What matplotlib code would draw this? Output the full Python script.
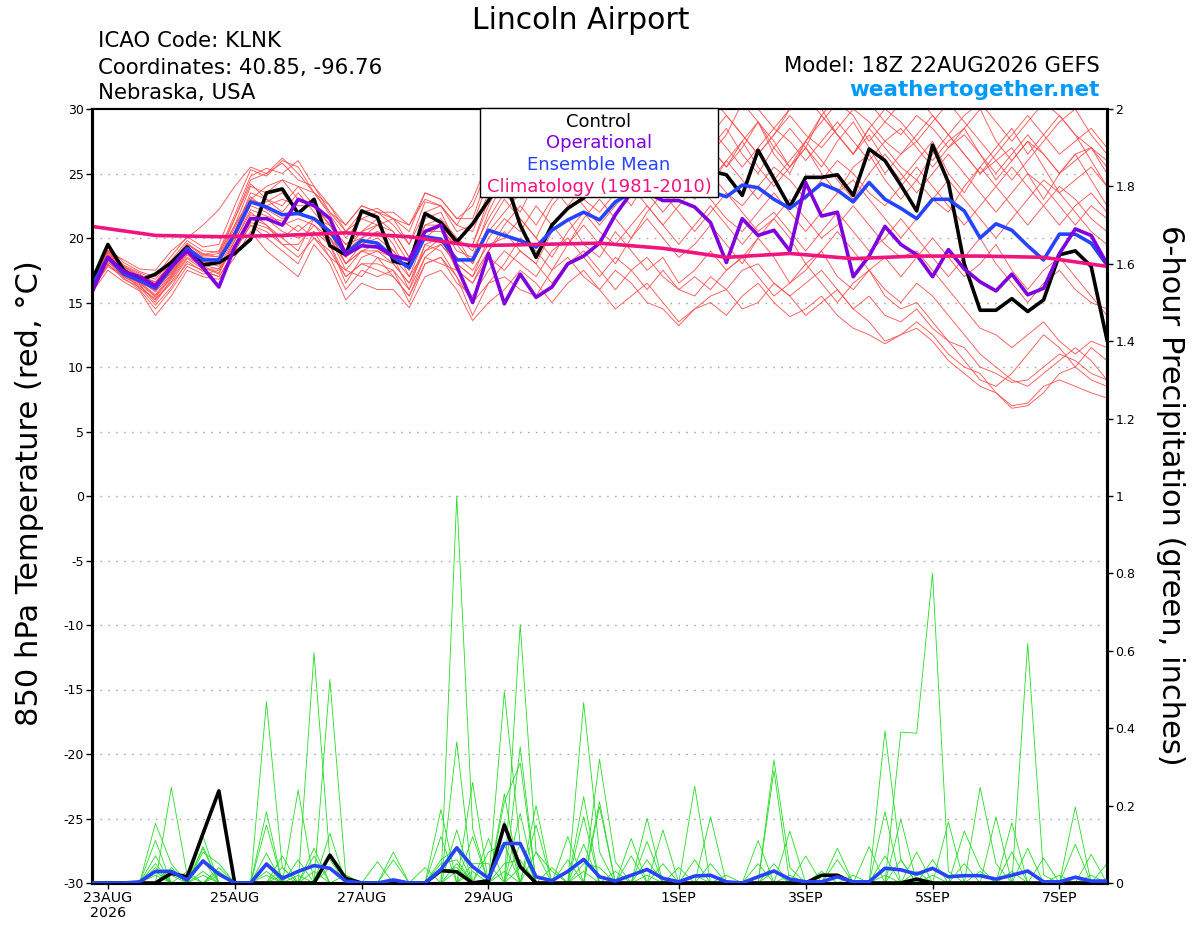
import numpy as np
import pandas as pd
import matplotlib
matplotlib.use("Agg")
import matplotlib.pyplot as plt
from matplotlib.patches import Rectangle
from matplotlib.ticker import FormatStrFormatter

plt.rcParams["axes.unicode_minus"] = False

# 6-hourly GEFS steps, 22AUG 18Z .. 7SEP 18Z
times = pd.date_range("2026-08-22 18:00", periods=65, freq="6h")
clim_times = times[::4]

tick_dates = ["2026-08-23", "2026-08-25", "2026-08-27", "2026-08-29",
              "2026-09-01", "2026-09-03", "2026-09-05", "2026-09-07"]
tick_labels = ["23AUG\n2026", "25AUG", "27AUG", "29AUG", "1SEP", "3SEP", "5SEP", "7SEP"]

# 850 hPa temperature (C)
control_t = [16.7, 19.5, 17.5, 16.7, 17.2, 18.1, 19.3, 17.9, 18.1, 18.8, 19.9, 23.5, 23.8,
             21.9, 23.0, 19.4, 18.7, 22.1, 21.6, 18.2, 17.9, 21.9, 21.2, 19.7, 21.1, 22.9,
             24.8, 21.0, 18.5, 21.0, 22.3, 23.1, 24.5, 25.5, 26.0, 25.5, 26.0, 25.5, 25.5,
             25.2, 24.9, 23.3, 26.8, 24.6, 22.4, 24.7, 24.7, 24.9, 23.3, 26.9, 26.0, 24.1,
             22.1, 27.2, 24.3, 18.0, 14.4, 14.4, 15.3, 14.3, 15.2, 18.7, 19.0, 17.8, 12.1]
oper_t = [15.8, 18.5, 17.4, 17.0, 16.3, 17.8, 19.0, 17.7, 16.2, 19.3, 21.5, 21.5, 21.0,
          23.0, 22.5, 21.5, 18.7, 19.4, 19.3, 18.6, 18.3, 20.5, 21.0, 17.8, 15.0, 18.8,
          14.9, 17.2, 15.4, 16.2, 18.0, 18.6, 19.6, 21.8, 23.5, 23.5, 22.9, 22.9, 22.4,
          21.2, 18.1, 21.5, 20.2, 20.6, 19.0, 24.3, 21.7, 22.0, 17.0, 18.6, 20.9, 19.5,
          18.7, 17.0, 19.1, 17.6, 16.6, 15.9, 17.2, 15.6, 16.1, 18.8, 20.7, 20.2, 18.0]
mean_t = [16.3, 18.5, 17.2, 16.7, 16.1, 17.7, 19.2, 18.3, 18.3, 20.3, 22.8, 22.4, 21.8,
          21.9, 21.5, 20.5, 18.8, 19.8, 19.6, 18.5, 17.7, 20.1, 19.9, 18.3, 18.3, 20.6,
          20.2, 19.8, 19.3, 20.6, 21.4, 22.0, 21.4, 22.8, 23.5, 24.0, 23.8, 24.2, 24.0,
          23.6, 23.2, 24.1, 23.9, 23.0, 22.3, 23.2, 24.2, 23.7, 22.8, 24.3, 23.0, 22.3,
          21.5, 23.0, 23.0, 22.1, 20.0, 21.1, 20.6, 19.4, 18.3, 20.3, 20.3, 19.6, 17.9]
clim_t = [20.9, 20.2, 20.1, 20.2, 20.4, 20.1, 19.4, 19.5, 19.6, 19.2, 18.5, 18.8, 18.4,
          18.6, 18.6, 18.5, 17.8]

member_t = [
    [16.9, 19.3, 18.1, 17.4, 17.0, 18.6, 20.1, 19.3, 19.5, 22.5, 25.3, 24.8, 26.0,
     25.5, 23.5, 21.8, 20.0, 21.5, 22.0, 21.0, 19.5, 22.8, 22.5, 20.5, 21.0, 24.5,
     27.0, 28.5, 27.0, 29.0, 31.0, 29.5, 28.0, 29.5, 31.5, 30.5, 28.5, 30.5, 31.0,
     27.0, 25.5, 27.0, 29.0, 27.5, 25.5, 27.0, 29.5, 28.0, 26.5, 28.5, 27.0, 25.5,
     24.5, 26.5, 28.0, 26.5, 25.0, 26.0, 27.0, 25.0, 23.0, 25.0, 26.5, 24.5, 22.5],
    [16.0, 17.8, 17.0, 16.3, 15.2, 16.5, 18.0, 17.5, 17.0, 19.0, 21.0, 20.5, 19.5,
     18.5, 20.0, 19.0, 17.0, 18.0, 17.5, 17.0, 15.5, 18.0, 18.5, 17.0, 15.0, 16.5,
     17.0, 16.0, 15.5, 17.5, 18.5, 17.0, 16.0, 17.5, 16.5, 15.0, 14.5, 13.2, 14.5,
     15.5, 16.0, 14.5, 15.0, 16.5, 15.5, 14.0, 15.0, 16.0, 14.5, 13.5, 12.0, 12.5,
     13.0, 12.0, 10.5, 9.5, 8.5, 8.0, 7.0, 7.2, 8.5, 9.0, 8.5, 8.0, 7.6],
    [16.5, 18.6, 17.5, 16.8, 15.8, 17.2, 19.0, 18.0, 18.2, 20.5, 23.5, 23.0, 22.0,
     23.5, 22.0, 20.5, 18.0, 19.5, 20.5, 19.0, 17.5, 20.5, 21.0, 19.0, 18.5, 22.0,
     24.5, 26.0, 24.0, 27.0, 28.5, 26.5, 25.5, 27.0, 29.0, 27.0, 25.5, 27.5, 29.5,
     27.0, 25.5, 27.5, 29.0, 26.5, 25.0, 27.5, 29.5, 28.0, 26.5, 28.0, 26.0, 24.5,
     26.0, 27.5, 25.0, 23.5, 25.5, 27.0, 28.5, 26.5, 28.0, 29.5, 28.0, 26.0, 24.0],
    [16.2, 18.2, 16.9, 16.0, 14.5, 16.0, 17.8, 17.2, 17.5, 19.5, 21.5, 21.0, 20.0,
     19.0, 21.5, 20.0, 17.5, 19.0, 18.5, 18.0, 16.5, 19.5, 20.0, 17.5, 16.5, 19.0,
     20.5, 19.0, 18.0, 20.5, 21.5, 19.5, 18.5, 20.5, 19.0, 17.5, 18.5, 16.5, 17.5,
     19.0, 17.5, 18.5, 20.0, 18.5, 16.5, 17.5, 19.0, 17.0, 16.0, 17.5, 15.5, 14.5,
     15.0, 13.5, 12.0, 10.5, 9.0, 8.5, 9.5, 11.0, 12.5, 11.5, 10.0, 11.5, 10.5],
    [17.0, 19.0, 17.8, 17.2, 16.5, 18.0, 19.5, 18.8, 18.5, 21.0, 24.0, 23.5, 24.5,
     24.0, 22.5, 21.0, 19.0, 20.5, 21.5, 20.5, 18.5, 21.5, 22.0, 19.5, 19.5, 23.0,
     25.5, 27.5, 26.0, 24.5, 26.5, 28.5, 27.5, 26.0, 25.0, 27.0, 28.5, 30.0, 28.5,
     26.5, 28.0, 30.5, 29.0, 27.0, 25.5, 27.5, 29.0, 30.5, 29.5, 27.5, 29.0, 28.0,
     29.5, 28.5, 27.0, 28.5, 30.0, 27.5, 26.0, 27.5, 26.5, 25.0, 26.5, 27.0, 25.5],
    [16.4, 18.5, 17.2, 16.5, 15.5, 17.0, 19.0, 18.2, 17.8, 20.0, 22.5, 22.0, 21.0,
     21.5, 21.0, 19.5, 16.5, 18.5, 19.0, 18.5, 16.0, 19.5, 19.0, 17.0, 14.0, 16.5,
     18.0, 20.0, 19.0, 17.5, 19.5, 21.0, 19.5, 18.0, 20.0, 21.5, 20.0, 18.5, 19.5,
     21.0, 19.5, 18.0, 20.0, 21.5, 20.0, 18.0, 19.0, 20.5, 19.0, 17.5, 18.5, 17.0,
     18.5, 20.0, 18.5, 17.0, 18.0, 19.5, 17.5, 16.0, 17.5, 18.5, 17.0, 15.5, 14.0],
    [16.7, 18.9, 17.6, 16.9, 16.0, 17.5, 19.3, 18.5, 18.6, 21.5, 24.5, 25.0, 26.2,
     25.0, 23.5, 22.0, 20.5, 22.0, 22.3, 21.5, 20.5, 23.5, 23.0, 21.5, 22.5, 25.5,
     28.0, 26.5, 29.0, 30.5, 28.5, 27.0, 28.5, 30.0, 29.0, 27.5, 26.5, 28.0, 30.5,
     31.0, 29.5, 28.0, 26.5, 28.0, 30.0, 31.5, 30.0, 28.0, 26.5, 28.5, 30.0, 29.0,
     27.5, 29.0, 30.5, 29.0, 27.5, 26.0, 24.5, 26.0, 27.5, 29.0, 30.0, 28.0, 26.5],
    [15.8, 17.5, 16.6, 15.9, 14.0, 15.5, 17.5, 17.0, 16.8, 18.5, 20.5, 19.0, 18.0,
     17.0, 19.5, 18.0, 15.2, 16.5, 16.0, 16.0, 14.6, 17.0, 17.5, 16.0, 13.6, 15.0,
     16.0, 17.5, 16.5, 15.0, 16.5, 17.5, 16.0, 14.5, 15.5, 16.5, 15.0, 13.5, 14.5,
     15.0, 14.0, 15.5, 16.5, 15.0, 13.9, 14.5, 15.5, 14.0, 13.0, 12.5, 11.8, 12.5,
     13.5, 12.5, 11.0, 10.0, 9.5, 8.0, 6.8, 7.0, 8.0, 9.5, 10.0, 9.0, 8.5],
    [16.6, 18.7, 17.8, 17.0, 16.2, 17.6, 19.5, 18.6, 18.8, 21.0, 23.0, 22.5, 23.0,
     22.5, 22.5, 21.0, 19.5, 20.0, 20.5, 20.0, 18.0, 21.0, 21.5, 20.0, 19.0, 21.5,
     23.5, 22.0, 24.5, 26.0, 24.0, 23.0, 25.0, 26.5, 25.0, 23.5, 25.5, 27.0, 25.5,
     24.0, 26.0, 27.5, 25.5, 24.0, 25.5, 27.0, 25.0, 23.5, 25.5, 26.5, 24.5, 23.0,
     24.5, 23.0, 22.0, 24.0, 25.5, 24.0, 22.5, 21.0, 22.5, 24.0, 23.0, 21.5, 20.5],
    [16.3, 18.3, 17.0, 16.4, 15.0, 16.8, 18.5, 17.8, 17.3, 19.5, 21.8, 21.5, 20.5,
     20.0, 20.5, 19.5, 17.0, 18.0, 18.0, 17.5, 16.0, 18.5, 19.5, 18.0, 17.0, 20.0,
     21.5, 20.5, 22.5, 21.0, 19.5, 21.5, 23.0, 21.5, 20.0, 22.0, 23.5, 22.0, 20.5,
     22.0, 23.5, 22.0, 20.5, 21.5, 23.0, 21.5, 20.0, 21.0, 22.5, 21.0, 19.5, 18.5,
     19.0, 17.5, 16.0, 14.5, 13.0, 12.5, 11.5, 12.5, 13.5, 12.0, 11.0, 12.0, 11.5],
    [16.9, 19.0, 18.3, 17.6, 17.5, 19.0, 20.0, 21.0, 22.2, 24.0, 25.5, 25.0, 25.8,
     24.5, 24.0, 22.0, 21.0, 22.5, 22.0, 21.5, 21.0, 23.0, 22.5, 21.0, 23.0, 26.0,
     29.0, 31.0, 29.5, 28.0, 30.0, 31.5, 30.0, 28.5, 30.5, 32.0, 30.5, 29.0, 30.5,
     29.5, 30.5, 31.5, 30.0, 28.5, 30.0, 31.0, 29.5, 31.0, 32.0, 30.5, 29.0, 30.5,
     31.0, 29.5, 28.0, 29.5, 30.5, 29.0, 27.5, 29.0, 30.5, 29.5, 28.0, 27.0, 26.0],
    [16.1, 18.0, 16.8, 16.2, 14.8, 16.2, 18.2, 17.4, 17.0, 19.0, 21.0, 20.0, 19.0,
     18.0, 20.5, 18.5, 16.0, 17.5, 17.0, 17.5, 15.0, 18.0, 18.5, 16.5, 15.5, 17.5,
     19.0, 18.0, 17.0, 19.0, 20.0, 18.5, 17.0, 18.5, 17.5, 16.0, 17.5, 16.0, 15.5,
     17.0, 16.0, 17.5, 18.0, 16.5, 15.5, 16.5, 17.5, 16.0, 14.5, 15.5, 14.0, 13.5,
     14.5, 13.0, 12.0, 11.5, 10.0, 9.5, 8.8, 9.0, 10.0, 11.0, 10.5, 9.5, 9.0],
    [16.5, 18.8, 17.6, 16.7, 16.3, 17.8, 19.2, 18.4, 18.0, 20.5, 23.0, 24.0, 24.5,
     23.0, 22.5, 21.0, 19.5, 20.5, 21.0, 19.5, 17.0, 20.0, 21.0, 20.0, 18.0, 20.5,
     22.0, 23.5, 25.0, 24.0, 22.5, 24.0, 25.5, 24.0, 22.5, 24.5, 26.0, 24.5, 23.0,
     24.5, 26.0, 24.5, 23.0, 24.5, 26.0, 27.5, 26.0, 24.5, 23.0, 25.0, 26.5, 25.0,
     23.5, 25.0, 26.5, 25.0, 23.5, 22.0, 23.5, 25.0, 24.0, 22.5, 21.0, 22.5, 21.5],
    [16.0, 17.9, 17.1, 16.6, 15.6, 17.1, 18.8, 17.9, 17.6, 19.8, 22.0, 21.0, 19.5,
     19.5, 21.0, 20.0, 18.0, 19.0, 19.5, 18.5, 17.0, 19.0, 20.0, 18.5, 17.5, 19.5,
     20.0, 21.5, 20.0, 18.5, 20.5, 22.0, 20.5, 19.5, 21.0, 22.5, 21.0, 19.5, 21.0,
     22.5, 21.0, 19.5, 21.0, 22.0, 20.5, 19.0, 20.5, 22.0, 20.5, 19.0, 20.0, 21.5,
     20.0, 18.5, 17.0, 18.5, 20.0, 18.0, 16.5, 15.0, 16.5, 17.5, 16.0, 15.0, 14.5],
    [16.8, 19.1, 17.9, 17.3, 16.8, 18.3, 19.8, 19.0, 18.9, 21.5, 24.2, 23.0, 22.5,
     24.0, 23.5, 22.5, 20.5, 21.5, 21.0, 21.5, 19.5, 22.0, 22.5, 21.0, 20.5, 23.5,
     26.0, 24.5, 26.5, 28.0, 26.5, 25.0, 26.5, 28.0, 27.0, 25.5, 27.0, 28.5, 27.0,
     28.5, 27.0, 25.5, 27.0, 28.5, 27.5, 26.0, 27.5, 29.0, 27.5, 26.0, 27.5, 28.5,
     27.0, 25.5, 27.0, 28.0, 26.5, 25.0, 26.5, 28.0, 26.5, 25.0, 26.0, 27.0, 25.0],
    [16.2, 18.1, 17.3, 16.1, 15.3, 16.6, 18.4, 17.6, 17.6, 19.2, 21.2, 20.8, 20.0,
     21.0, 20.0, 18.5, 17.5, 17.0, 18.5, 17.0, 15.5, 18.5, 18.0, 17.5, 16.5, 18.5,
     17.5, 19.0, 18.0, 16.5, 18.0, 19.0, 17.5, 16.0, 17.5, 18.5, 17.0, 16.0, 17.0,
     16.0, 17.5, 18.5, 17.0, 15.5, 16.5, 18.0, 16.5, 15.0, 16.5, 17.5, 16.0, 15.0,
     16.5, 15.5, 14.0, 12.5, 11.0, 10.0, 9.0, 8.5, 9.5, 10.5, 11.5, 10.5, 9.0],
    [16.6, 18.4, 17.4, 16.6, 15.9, 17.4, 19.1, 18.3, 18.4, 20.8, 23.2, 22.2, 21.5,
     22.0, 21.5, 20.0, 18.5, 19.5, 20.0, 19.0, 17.5, 20.5, 20.5, 19.5, 18.0, 21.0,
     23.0, 21.5, 20.0, 22.5, 24.0, 22.5, 21.0, 22.5, 24.0, 22.5, 21.0, 22.5, 24.0,
     23.0, 21.5, 20.5, 22.0, 23.5, 22.0, 20.5, 22.0, 23.5, 24.5, 23.0, 21.5, 20.0,
     21.5, 23.0, 24.5, 23.0, 21.5, 20.0, 21.5, 23.0, 24.5, 23.5, 22.0, 20.5, 19.5],
    [16.4, 18.6, 17.5, 16.8, 16.1, 17.3, 19.0, 18.1, 18.1, 20.2, 22.7, 22.8, 23.5,
     22.0, 21.5, 21.0, 19.0, 20.0, 21.0, 20.5, 18.5, 21.0, 21.0, 19.5, 19.5, 22.5,
     25.0, 27.0, 25.5, 27.5, 29.5, 28.0, 26.5, 28.0, 29.5, 28.5, 30.0, 28.5, 27.0,
     28.0, 29.5, 28.0, 26.5, 28.0, 29.5, 28.0, 27.0, 28.5, 30.0, 29.0, 27.5, 26.5,
     28.0, 29.5, 28.0, 26.5, 25.0, 26.5, 28.0, 29.5, 28.0, 26.5, 27.5, 28.5, 27.0],
    [16.3, 18.4, 17.1, 16.5, 15.4, 16.9, 18.7, 17.7, 17.2, 19.8, 22.2, 21.7, 21.3,
     20.5, 21.5, 20.5, 18.0, 19.0, 19.0, 18.0, 16.5, 19.0, 19.5, 18.0, 17.0, 19.0,
     21.0, 22.5, 21.0, 23.0, 24.5, 23.0, 22.0, 23.5, 25.0, 23.5, 22.0, 23.5, 25.5,
     25.0, 23.5, 22.5, 24.0, 25.5, 24.5, 23.0, 24.5, 26.0, 25.0, 23.5, 22.5, 24.0,
     25.5, 24.0, 22.5, 21.0, 22.5, 24.0, 25.5, 24.0, 22.5, 21.0, 22.5, 23.5, 22.0],
    [16.7, 18.9, 17.7, 17.1, 16.6, 18.1, 19.6, 18.7, 19.0, 21.8, 24.8, 25.4, 25.0,
     26.0, 24.0, 22.5, 21.0, 22.5, 22.0, 22.0, 21.0, 23.5, 23.0, 21.5, 21.5, 25.0,
     26.0, 27.5, 29.0, 27.0, 25.5, 27.0, 28.5, 26.5, 25.0, 26.5, 28.5, 27.5, 26.0,
     27.0, 28.5, 26.5, 25.0, 27.0, 28.5, 27.0, 25.5, 27.5, 29.0, 27.0, 25.0, 26.5,
     27.5, 26.0, 27.5, 28.5, 26.5, 24.5, 26.0, 27.5, 25.5, 23.5, 24.5, 25.5, 24.0],
]

# 6-hour precipitation (inches)
control_p = [0, 0, 0, 0, 0, 0.025, 0.016, 0.128, 0.238, 0, 0, 0, 0,
             0, 0, 0.072, 0.012, 0, 0, 0, 0, 0, 0.032, 0.029, 0, 0.006,
             0.15, 0.042, 0, 0, 0, 0, 0, 0, 0, 0, 0, 0, 0,
             0, 0, 0, 0, 0, 0, 0, 0.02, 0.02, 0, 0, 0, 0,
             0.01, 0, 0, 0, 0, 0, 0, 0, 0, 0, 0, 0, 0]
mean_p = [0, 0, 0, 0.003, 0.03, 0.03, 0.008, 0.057, 0.023, 0, 0, 0.049, 0.012,
          0.03, 0.045, 0.038, 0.005, 0, 0, 0.008, 0, 0, 0.035, 0.091, 0.042, 0.012,
          0.102, 0.102, 0.016, 0.006, 0.03, 0.061, 0.016, 0.005, 0.02, 0.035, 0.012, 0.003, 0.018,
          0.02, 0.003, 0, 0.016, 0.031, 0.01, 0.003, 0.003, 0.016, 0.003, 0.003, 0.038, 0.034,
          0.023, 0.038, 0.016, 0.019, 0.019, 0.01, 0.02, 0.031, 0.003, 0.003, 0.015, 0.005, 0.005]

# non-zero steps of each precipitation member {step: inches}
member_p = [
    {4: 0.154, 5: 0.05, 11: 0.468, 12: 0.04, 23: 1.0, 24: 0.14, 31: 0.1, 43: 0.318, 44: 0.04,
     51: 0.39, 52: 0.387, 53: 0.8, 54: 0.03, 62: 0.196},
    {5: 0.247, 6: 0.02, 14: 0.595, 15: 0.06, 22: 0.19, 27: 0.668, 28: 0.08, 35: 0.167,
     50: 0.393, 51: 0.06, 59: 0.619, 60: 0.02},
    {4: 0.11, 7: 0.12, 15: 0.526, 16: 0.02, 23: 0.365, 26: 0.494, 27: 0.1, 32: 0.32, 33: 0.055,
     38: 0.25, 56: 0.247, 57: 0.05},
    {4: 0.07, 7: 0.094, 11: 0.184, 13: 0.24, 23: 0.137, 27: 0.352, 31: 0.466, 32: 0.08,
     43: 0.29, 47: 0.09, 55: 0.134, 56: 0.04},
    {4: 0.05, 7: 0.09, 11: 0.15, 22: 0.12, 24: 0.26, 26: 0.23, 31: 0.223, 36: 0.137,
     42: 0.11, 50: 0.184, 58: 0.156},
    {5: 0.04, 7: 0.08, 8: 0.05, 11: 0.077, 15: 0.128, 19: 0.08, 26: 0.21, 27: 0.31, 32: 0.21,
     34: 0.115, 39: 0.171, 54: 0.158, 57: 0.171},
    {4: 0.04, 8: 0.04, 12: 0.07, 14: 0.09, 22: 0.06, 23: 0.09, 26: 0.16, 28: 0.2, 31: 0.171,
     35: 0.107, 44: 0.134, 51: 0.165, 58: 0.08, 62: 0.1},
    {5: 0.03, 7: 0.06, 11: 0.05, 13: 0.06, 18: 0.055, 24: 0.12, 27: 0.18, 30: 0.12, 32: 0.197,
     36: 0.05, 49: 0.094, 52: 0.08, 63: 0.074},
    {8: 0.03, 14: 0.07, 22: 0.05, 23: 0.06, 25: 0.115, 28: 0.15, 34: 0.07, 38: 0.06, 43: 0.05,
     47: 0.06, 53: 0.06, 59: 0.09},
    {4: 0.03, 12: 0.04, 16: 0.02, 21: 0.04, 25: 0.08, 26: 0.1, 29: 0.04, 35: 0.06, 42: 0.05,
     45: 0.07, 50: 0.07, 55: 0.05, 64: 0.05},
    {6: 0.03, 19: 0.06, 24: 0.05, 25: 0.05, 27: 0.1, 30: 0.06, 33: 0.03, 37: 0.04, 39: 0.05,
     46: 0.03, 51: 0.06, 60: 0.064},
    {5: 0.02, 11: 0.03, 15: 0.04, 22: 0.03, 23: 0.04, 28: 0.08, 29: 0.03, 40: 0.02, 48: 0.02,
     56: 0.03, 61: 0.02},
    {4: 0.02, 7: 0.03, 13: 0.02, 23: 0.05, 26: 0.05, 27: 0.06, 31: 0.05, 32: 0.04, 44: 0.02,
     52: 0.03, 58: 0.03},
    {4: 0.03, 8: 0.02, 11: 0.02, 14: 0.03, 24: 0.03, 27: 0.04, 35: 0.02, 43: 0.03, 50: 0.02,
     63: 0.02},
    {7: 0.02, 12: 0.02, 23: 0.03, 26: 0.03, 31: 0.03, 38: 0.02, 53: 0.02},
]

RED = "#ff4d4d"
GREEN = "#22dd22"
PURPLE = "#8000dd"
BLUE = "#2643ff"
PINK = "#f0147f"

W, H = 1200, 927
fig = plt.figure(figsize=(W / 100, H / 100), dpi=100)
ax = fig.add_axes([92 / W, 44 / H, 1015 / W, 774 / H])
ax2 = ax.twinx()

for v in range(-25, 30, 5):
    ax.axhline(v, color="#aaaaaa", lw=1.0, ls=(0, (1.2, 4.5)), zorder=0)

for m in member_t:
    ax.plot(times, m, color=RED, lw=0.6, zorder=1)
ax.plot(times, control_t, color="black", lw=2.6, zorder=3)
ax.plot(times, mean_t, color=BLUE, lw=2.6, zorder=4)
ax.plot(times, oper_t, color=PURPLE, lw=2.6, zorder=5)
ax.plot(clim_times, clim_t, color=PINK, lw=2.6, zorder=6)

for d in member_p:
    p = np.zeros(len(times))
    for k, v in d.items():
        p[k] = v
    ax2.plot(times, p, color=GREEN, lw=0.6, zorder=1)
ax2.plot(times, control_p, color="black", lw=2.6, zorder=3)
ax2.plot(times, mean_p, color=BLUE, lw=2.6, zorder=4)

ax.set_xlim(times[0], times[-1])
ax.set_ylim(-30, 30)
ax2.set_ylim(0, 2)
ax.set_yticks(range(-30, 31, 5))
ax2.set_yticks(np.arange(0, 2.01, 0.2))
ax2.yaxis.set_major_formatter(FormatStrFormatter("%g"))
ax.set_xticks(pd.to_datetime(tick_dates))
ax.set_xticklabels(tick_labels, linespacing=1.05)

ax.tick_params(axis="y", labelsize=9, length=4, width=1, pad=2)
ax.tick_params(axis="x", labelsize=10.3, length=4, width=1, pad=2)
ax2.tick_params(axis="y", labelsize=9, length=4, width=1, pad=2)
for a in (ax, ax2):
    for side in ("left", "right", "bottom"):
        a.spines[side].set_linewidth(2.2)
    a.spines["top"].set_linewidth(1.5)

# legend box
fig.add_artist(Rectangle((480 / W, 1 - 197 / H), 238 / W, 89 / H, transform=fig.transFigure,
                         facecolor="white", edgecolor="black", lw=1.0, zorder=10))
for txt, col, yb in [("Control", "black", 127), ("Operational", PURPLE, 148),
                     ("Ensemble Mean", BLUE, 170), ("Climatology (1981-2010)", PINK, 192)]:
    fig.text(599 / W, 1 - yb / H, txt, color=col, fontsize=13, ha="center", va="baseline", zorder=11)

fig.text(581 / W, 1 - 29 / H, "Lincoln Airport", fontsize=21.5, ha="center", va="baseline")
fig.text(98 / W, 1 - 47 / H, "ICAO Code: KLNK", fontsize=15.3, ha="left", va="baseline")
fig.text(98 / W, 1 - 74 / H, "Coordinates: 40.85, -96.76", fontsize=15.3, ha="left", va="baseline")
fig.text(98 / W, 1 - 99 / H, "Nebraska, USA", fontsize=15.3, ha="left", va="baseline")
fig.text(1100 / W, 1 - 72 / H, "Model: 18Z 22AUG2026 GEFS", fontsize=15.3, ha="right", va="baseline")
fig.text(1100 / W, 1 - 96 / H, "weathertogether.net", fontsize=15.5, fontweight="bold",
         color="#0099ff", ha="right", va="baseline")

fig.text(30 / W, 1 - 493 / H, "850 hPa Temperature (red, °C)", fontsize=22, rotation=90,
         ha="center", va="center")
fig.text(1170 / W, 1 - 495 / H, "6-hour Precipitation (green, inches)", fontsize=22, rotation=270,
         ha="center", va="center")

fig.savefig("out.png", dpi=100)
